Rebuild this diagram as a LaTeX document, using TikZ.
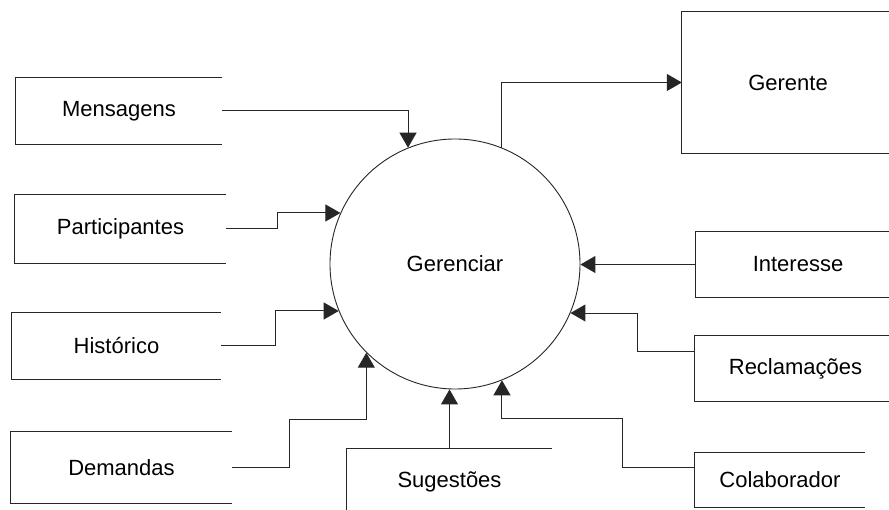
\documentclass[tikz,border=0pt]{standalone}
\usepackage{fontspec}
\setmainfont{Liberation Sans}
\usetikzlibrary{arrows.meta}

\tikzset{
  label/.style={shape=rectangle, inner sep=0pt, font=\fontsize{22}{26}\selectfont},
  frame/.style={draw=black!85, line width=1pt},
  flow/.style={draw=black!85, line width=1pt, -{Triangle[length=15pt,width=17pt]}},
  process/.style={circle, draw=black!85, line width=0.9pt, minimum size=250pt, inner sep=0pt,
                  font=\fontsize{22}{26}\selectfont}
}

\begin{document}
\begin{tikzpicture}[x=1pt, y=-1pt]
  \clip (0,0) rectangle (889,510);
  \fill[white] (0,0) rectangle (889,510);

  % central process
  \node[process] (c) at (455,264) {Gerenciar};

  % data stores on the left
  \node[label, minimum width=206pt, minimum height=66pt] (mens) at (119,111)   {Mensagens};
  \node[label, minimum width=211pt, minimum height=68pt] (part) at (120.5,229) {Participantes};
  \node[label, minimum width=209pt, minimum height=66pt] (hist) at (116.5,346) {Histórico};
  \node[label, minimum width=221pt, minimum height=71pt] (dem)  at (121.5,467.5) {Demandas};

  % bottom store
  \node[label, minimum width=205pt, minimum height=66pt] (sug)  at (449.5,482) {Sugestões};

  % entities on the right
  \node[label, minimum width=212pt, minimum height=141pt] (ger) at (788,82.5)  {Gerente};
  \node[label, minimum width=204pt, minimum height=65pt]  (int) at (798,264.5) {Interesse};
  \node[label, minimum width=201pt, minimum height=65pt]  (rec) at (795.5,368.5) {Reclamações};
  \node[label, minimum width=170pt, minimum height=54pt]  (col) at (780,480)   {Colaborador};

  % three-sided frames, open on the right
  \foreach \n in {mens,part,hist,dem,ger,int,rec,col}
    \draw[frame] (\n.north east) -- (\n.north west) -- (\n.south west) -- (\n.south east);
  % frame open at the bottom
  \draw[frame] (sug.south west) -- (sug.north west) -- (sug.north east);

  % flows
  \draw[flow] (mens.east) -| (c.112);
  \draw[flow] (c.68) |- (ger.west);
  \draw[flow] (part.east) -- ++(51,0) |- (c.156);
  \draw[flow] (hist.east) -- ++(54,0) |- (c.202);
  \draw[flow] (dem.east) -- ++(57,0) -- ++(0,-47.5) -| (c.225);
  \draw[flow] (sug.north) -- (sug.north |- c.south);
  \draw[flow] (int.west) -- (int.west -| c.east);
  \draw[flow] ([yshift=16.5pt]rec.west) -- ++(-57,0) |- (c.337);
  \draw[flow] ([yshift=13pt]col.west) -- ++(-72,0) -- ++(0,-48) -| (c.292);
\end{tikzpicture}
\end{document}
